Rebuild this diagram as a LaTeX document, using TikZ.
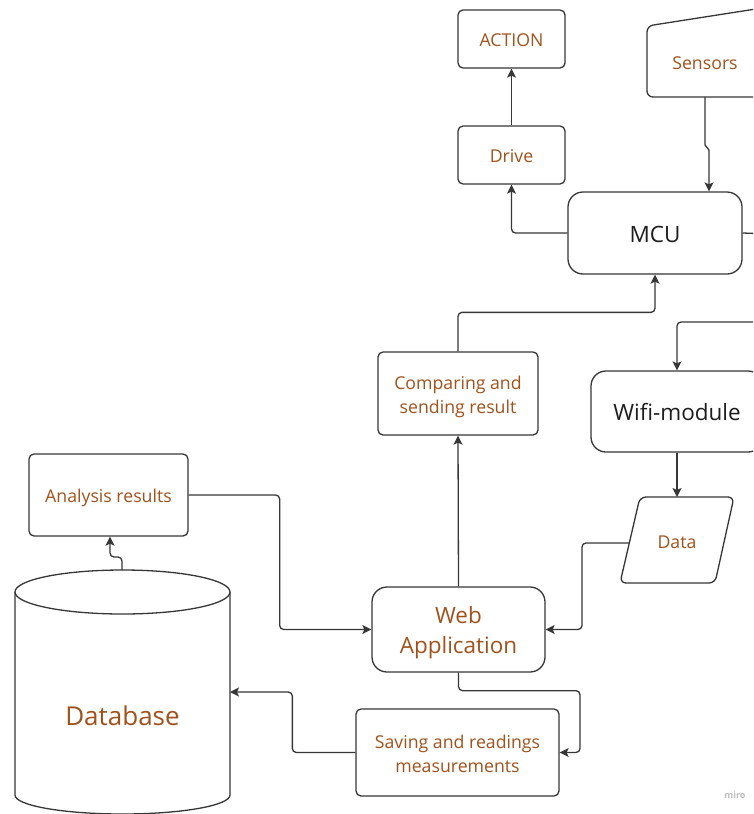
\documentclass[tikz,border=0pt]{standalone}
\usepackage{fontspec}
\setmainfont{Open Sans}
\usetikzlibrary{arrows.meta,calc}
\definecolor{txtbrown}{RGB}{160,82,28}
\definecolor{txtdark}{RGB}{30,30,30}
\definecolor{linec}{RGB}{55,55,55}
\tikzset{
  box/.style={draw=linec, line width=1.3pt, fill=white, rounded corners=5pt, inner sep=0pt},
  bigbox/.style={box, rounded corners=15pt},
  shp/.style={draw=linec, line width=1.3pt, fill=white},
  arr/.style={draw=linec, line width=1.3pt, rounded corners=4pt, -{Stealth[length=9pt,width=9pt,inset=2pt]}},
  ln/.style={draw=linec, line width=1.3pt, rounded corners=4pt},
  lbl/.style={inner sep=0pt, align=center, text=txtbrown, font=\fontsize{17.7}{24}\selectfont},
  lblbig/.style={lbl, font=\fontsize{22.5}{30}\selectfont},
  lbldark/.style={lblbig, text=txtdark}
}
\begin{document}
\begin{tikzpicture}[x=1pt,y=-1pt]
\useasboundingbox (0,0) rectangle (753,814);
\clip (0,0) rectangle (753,814);
\fill[white] (0,0) rectangle (753,814);

% Sensors (manual input shape)
\draw[shp, rounded corners=6pt] (647,97) -- (647,26) -- (775,6) -- (775,97) -- cycle;
\node[lbl] (sensT) at (705,63) {Sensors};
\coordinate (sensB) at (705,97);

% Boxes
\node[box, minimum width=107pt, minimum height=58pt] (action) at (511.5,39) {};
\node[lbl] (actionT) at ([yshift=-1pt]action.center) {ACTION};
\node[box, minimum width=107pt, minimum height=58pt] (drive) at (511.5,155) {};
\node[lbl] (driveT) at ([yshift=-1.5pt]drive.center) {Drive};
\node[bigbox, minimum width=174pt, minimum height=82pt] (mcu) at (655,233) {};
\node[lbldark] (mcuT) at ([yshift=-1pt]mcu.center) {MCU};
\node[box, minimum width=160pt, minimum height=83pt] (comp) at (458,393.5) {};
\node[lbl] (compT) at ([yshift=-3.5pt]comp.center) {Comparing and\\sending result};
\node[bigbox, minimum width=172pt, minimum height=81pt] (wifi) at (677,411.5) {};
\node[lbldark] (wifiT) at ([yshift=-0.5pt]wifi.center) {Wifi-module};
\node[bigbox, minimum width=173pt, minimum height=85pt] (web) at (458.5,629.5) {};
\node[lblbig] (webT) at ([yshift=-3pt]web.center) {Web\\Application};
\node[box, minimum width=159pt, minimum height=82pt] (ana) at (108.5,495) {};
\node[lbl] (anaT) at ([yshift=-3pt]ana.center) {Analysis results};
\node[box, minimum width=203pt, minimum height=87pt] (save) at (457.5,752.5) {};
\node[lbl] (saveT) at ([yshift=-1.5pt]save.center) {Saving and readings\\measurements};

% Data parallelogram
\draw[shp, rounded corners=6pt] (640,497) -- (734,497) -- (715,583) -- (620,583) -- cycle;
\node[lbl] (data) at (677,542) {Data};
\coordinate (dataT) at (677,497);
\coordinate (dataL) at (629,543);

% Database cylinder
\draw[shp] (15,592) -- (15,795) arc[start angle=180, end angle=0, x radius=107.5, y radius=19] -- (230,592);
\draw[shp] (122.5,592) ellipse[x radius=107.5, y radius=22];
\node[lbl, font=\fontsize{26}{30}\selectfont] (db) at (122.5,715.5) {Database};
\coordinate (dbTop) at (122,570);
\coordinate (dbR) at (230,692);

% Off-picture ends
\coordinate (mcuOut) at (770,234);
\coordinate (wifiIn) at (770,322);
\coordinate (saveTurn) at (580,752.5);

% Connectors
\draw[arr] (drive.north) -- (action.south);
\draw[arr] (mcu.west) -| (drive.south);
\draw[arr, rounded corners=0pt] (sensB) -- ++(0,48) -- ++(4,5) -- ([xshift=54pt]mcu.north);
\draw[ln] (mcu.east) -- (mcuOut);
\draw[arr] (comp.north) -- ++(0,-39) -| (mcu.south);
\draw[arr] (wifiIn) -| (wifi.north);
\draw[arr] (wifi.south) -- (dataT);
\draw[arr] (dataL) -- ++(-47,0) |- (web.east);
\draw[arr] (web.north) -- (comp.south);
\draw[arr] (ana.east) -- ++(91,0) |- (web.west);
\draw[arr] (dbTop) -- ++(0,-13) -| ([xshift=1.5pt]ana.south);
\draw[arr] (web.south) -- ++(0,18) -| (saveTurn) -- (save.east);
\draw[arr] (save.west) -- ++(-63,0) |- (dbR);

% watermark
\node[inner sep=0pt, text=black!25, font=\bfseries\fontsize{9}{10}\selectfont] (miro) at (735,795) {miro};
\end{tikzpicture}
\end{document}
